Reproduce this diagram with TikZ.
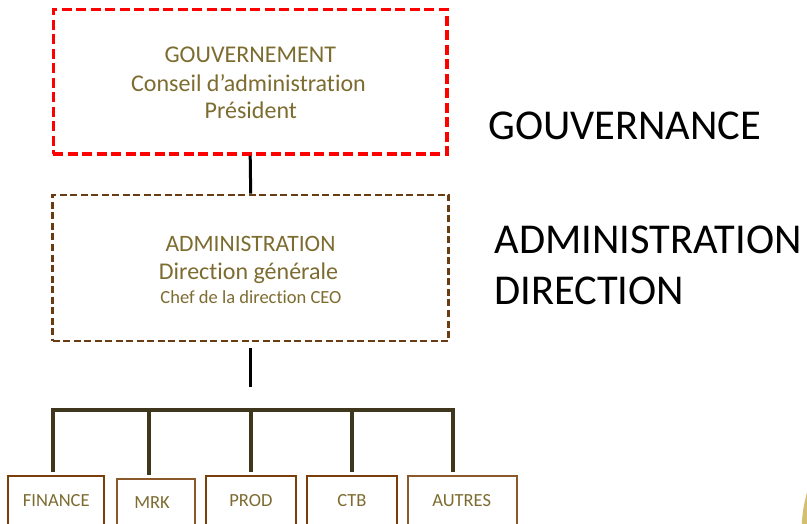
\documentclass[tikz,border=0pt]{standalone}
\usepackage{fontspec}
\setmainfont[Ligatures=NoCommon]{Carlito}
\definecolor{olivetxt}{RGB}{125,108,48}
\definecolor{brownd}{RGB}{105,60,18}
\definecolor{boxbrown}{RGB}{122,62,10}
\definecolor{boxbrownl}{RGB}{138,88,42}
\definecolor{busc}{RGB}{62,55,30}
\definecolor{goldc}{RGB}{212,190,112}
\tikzset{
  govbox/.style={draw=red, line width=3.2pt, dash pattern=on 10pt off 4.5pt, minimum width=393.7pt, minimum height=144.7pt, inner sep=0pt},
  admbox/.style={draw=brownd, line width=2.8pt, dash pattern=on 7pt off 3.5pt, minimum width=396pt, minimum height=146pt, inner sep=0pt},
  txt/.style={text=olivetxt, anchor=base, inner sep=0pt},
  bigtxt/.style={text=black, anchor=base west, inner sep=0pt, font=\fontsize{42.5}{48}\selectfont},
  conn/.style={draw=black, line width=3pt},
  bus/.style={draw=busc, line width=4pt},
  deptbox/.style={draw=boxbrown, line width=2pt, inner sep=0pt, text=olivetxt, font=\fontsize{18.5}{22}\selectfont},
}
\begin{document}
\begin{tikzpicture}[x=1pt,y=-1pt]
\useasboundingbox (0,0) rectangle (807,524);
\clip (0,0) rectangle (807,524);
\fill[white] (0,0) rectangle (807,524);
% decorative partial circle
\fill[goldc] (935,530) circle[radius=133.3];

% top boxes
\node[govbox] (gov) at (250.2,81.7) {};
\node[txt, font=\fontsize{24}{28}\selectfont] (g1) at (250.3,62.3) {GOUVERNEMENT};
\node[txt, font=\fontsize{24}{28}\selectfont] (g2) at (248.5,91.7) {Conseil d’administration};
\node[txt, font=\fontsize{24}{28}\selectfont] (g3) at (250.8,119) {Président};

\node[admbox] (adm) at (250.7,268) {};
\node[txt, font=\fontsize{23.5}{28}\selectfont] (a1) at (250.5,251.7) {ADMINISTRATION};
\node[txt, font=\fontsize{24}{28}\selectfont] (a2) at (248.5,279.3) {Direction générale};
\node[txt, font=\fontsize{18.5}{22}\selectfont] (a3) at (251,303.3) {Chef de la direction CEO};

\draw[conn] (gov.south) -- (adm.north);

% right labels
\node[bigtxt] (r1) at (488,139.3) {GOUVERNANCE};
\node[bigtxt] (r2) at (494.5,253.3) {ADMINISTRATION};
\node[bigtxt] (r3) at (494,305) {DIRECTION};

% stub under administration
\coordinate (s1) at (250.7,348.3);
\coordinate (s2) at (250.7,387.3);
\draw[conn] (s1) -- (s2);

% department boxes
\node[deptbox, minimum width=96pt, minimum height=50.6pt] (fin) at (56.3,501) {FINANCE};
\node[deptbox, draw=boxbrownl, minimum width=77.7pt, minimum height=46.4pt] (mrk) at (156.1,502.5) {\hspace*{-8pt}MRK};
\node[deptbox, minimum width=89.7pt, minimum height=50.6pt] (prod) at (250.9,501) {PROD};
\node[deptbox, minimum width=90.6pt, minimum height=50.6pt] (ctb) at (352,501) {CTB};
\node[deptbox, draw=boxbrownl, minimum width=109pt, minimum height=50.6pt] (aut) at (462.2,501) {\hspace*{-1pt}AUTRES};

% bus
\coordinate (d1) at (53.3,410.3);
\coordinate (d2) at (149.3,410.3);
\coordinate (d3) at (250.7,410.3);
\coordinate (d4) at (351.7,410.3);
\coordinate (d5) at (453.3,410.3);
\draw[bus, line cap=rect] (d1) -- (d5);
\draw[bus, shorten >=3pt] (d1) -- (d1 |- fin.north);
\draw[bus, shorten >=3.5pt] (d2) -- (d2 |- mrk.north);
\draw[bus, shorten >=3pt] (d3) -- (d3 |- prod.north);
\draw[bus, shorten >=3pt] (d4) -- (d4 |- ctb.north);
\draw[bus, shorten >=3pt] (d5) -- (d5 |- aut.north);
\end{tikzpicture}
\end{document}
